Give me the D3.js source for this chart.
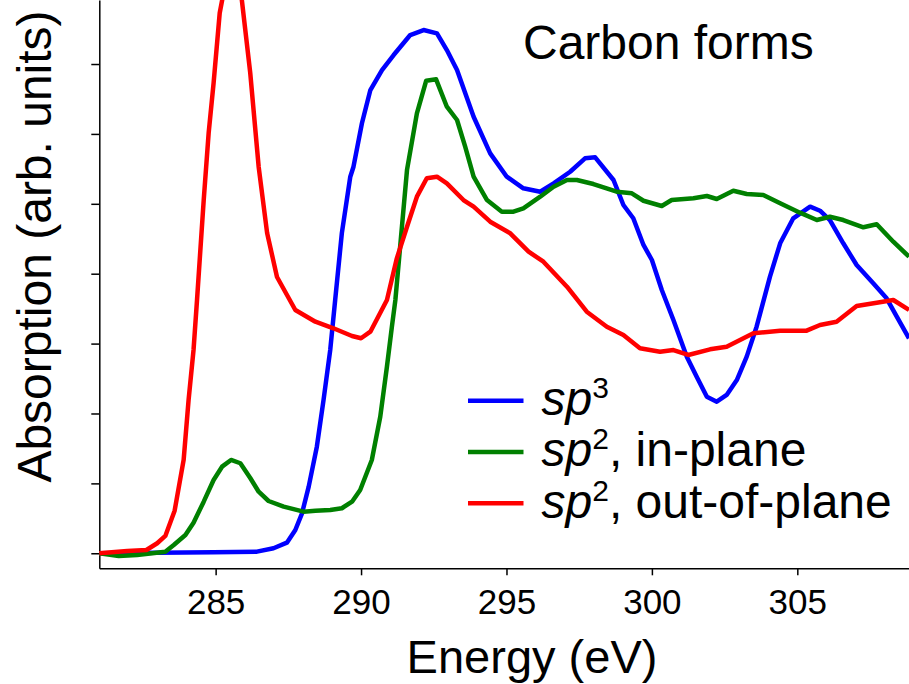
<!DOCTYPE html>
<html>
<head>
<meta charset="utf-8">
<script src="https://cdn.jsdelivr.net/npm/d3@7"></script>
<style>
  html, body { margin: 0; padding: 0; background: #fff; }
  svg { display: block; font-family: "Liberation Sans", Arial, sans-serif; }
</style>
</head>
<body>
<svg id="chart" width="909" height="684"></svg>
<script>
// energy (eV) / absorption (arb. units)
var sp3E = [281.0, 284.92, 286.42, 286.99, 287.45, 287.74, 287.97, 288.20, 288.48, 288.71, 288.94, 289.11, 289.34, 289.63, 289.74, 290.03, 290.32, 290.72, 291.12, 291.69, 292.15, 292.61, 292.95, 293.30, 293.87, 294.44, 295.01, 295.58, 296.16, 296.62, 297.19, 297.70, 298.05, 298.68, 299.02, 299.36, 299.71, 300.00, 300.34, 300.74, 301.20, 301.54, 301.89, 302.23, 302.57, 302.92, 303.26, 303.60, 304.06, 304.41, 304.86, 305.44, 305.78, 306.12, 306.58, 307.04, 307.61, 308.07, 308.42, 308.84];
var sp3A = [0, 0.014, 0.023, 0.072, 0.152, 0.333, 0.572, 0.953, 1.525, 2.193, 2.908, 3.624, 4.582, 5.388, 5.531, 6.152, 6.628, 6.914, 7.129, 7.415, 7.486, 7.439, 7.200, 6.914, 6.246, 5.722, 5.388, 5.222, 5.173, 5.293, 5.459, 5.651, 5.665, 5.341, 4.983, 4.793, 4.411, 4.196, 3.767, 3.338, 2.813, 2.526, 2.240, 2.169, 2.265, 2.479, 2.813, 3.242, 3.957, 4.435, 4.793, 4.959, 4.901, 4.768, 4.435, 4.124, 3.863, 3.648, 3.385, 3.076];

var inPlaneE = [281.0, 281.67, 282.30, 283.27, 283.56, 283.96, 284.24, 284.59, 284.93, 285.22, 285.53, 285.85, 286.19, 286.48, 286.82, 287.34, 288.02, 288.43, 288.94, 289.34, 289.69, 289.97, 290.37, 290.66, 290.89, 291.06, 291.18, 291.58, 291.92, 292.24, 292.58, 292.95, 293.30, 293.58, 293.87, 294.33, 294.84, 295.24, 295.58, 296.16, 296.62, 297.08, 297.42, 297.99, 298.79, 299.31, 299.71, 300.34, 300.68, 301.43, 301.89, 302.23, 302.80, 303.26, 303.83, 304.41, 305.09, 305.67, 306.12, 306.58, 307.27, 307.73, 308.30, 308.84];
var inPlaneA = [0, -0.039, -0.024, 0.023, 0.119, 0.262, 0.438, 0.738, 1.049, 1.239, 1.335, 1.288, 1.077, 0.881, 0.748, 0.667, 0.595, 0.609, 0.619, 0.644, 0.738, 0.906, 1.335, 1.954, 2.670, 3.242, 3.624, 5.484, 6.295, 6.761, 6.781, 6.389, 6.199, 5.817, 5.388, 5.054, 4.887, 4.887, 4.936, 5.102, 5.245, 5.341, 5.341, 5.283, 5.173, 5.150, 5.044, 4.969, 5.054, 5.079, 5.112, 5.069, 5.187, 5.140, 5.126, 5.007, 4.873, 4.768, 4.815, 4.768, 4.664, 4.707, 4.458, 4.243];

var outPlaneE = [281.0, 281.96, 282.62, 282.99, 283.27, 283.59, 283.90, 284.07, 284.24, 284.36, 284.59, 284.76, 284.93, 285.14, 285.30, 285.57, 285.85, 286.19, 286.48, 286.77, 287.11, 287.74, 288.43, 289.05, 289.69, 290.00, 290.32, 290.89, 291.23, 291.58, 291.92, 292.26, 292.61, 292.95, 293.52, 293.87, 294.44, 295.13, 295.76, 296.27, 297.08, 297.76, 298.45, 299.02, 299.59, 300.28, 300.74, 301.25, 302.00, 302.57, 303.49, 304.41, 305.32, 305.78, 306.35, 307.04, 307.73, 308.30, 308.84];
var outPlaneA = [0, 0.033, 0.047, 0.143, 0.248, 0.609, 1.335, 2.193, 2.908, 3.624, 5.054, 6.013, 6.728, 7.730, 8.080, 8.300, 8.100, 6.871, 5.526, 4.582, 3.953, 3.481, 3.313, 3.219, 3.109, 3.076, 3.170, 3.624, 4.220, 4.672, 5.102, 5.365, 5.388, 5.293, 5.054, 4.959, 4.744, 4.578, 4.315, 4.172, 3.814, 3.456, 3.242, 3.123, 2.933, 2.884, 2.908, 2.837, 2.918, 2.956, 3.147, 3.185, 3.185, 3.266, 3.313, 3.538, 3.585, 3.624, 3.481];

var seriesColors = ["#0000ff", "#008000", "#ff0000"];
var xTicks = [285, 290, 295, 300, 305];
var yTicks = [0, 1, 2, 3, 4, 5, 6, 7];

var svg = d3.select("#chart");

var x = d3.scaleLinear().domain([281.0, 308.84]).range([99.3, 909]);
var y = d3.scaleLinear().domain([-0.215, 7.916]).range([568.3, 0]);

function pairs(es, as) {
  return es.map(function(e, i) { return [e, as[i]]; });
}
var series = [pairs(sp3E, sp3A), pairs(inPlaneE, inPlaneA), pairs(outPlaneE, outPlaneA)];

// axes
var xAxis = svg.append("g")
  .attr("transform", "translate(0,568.3)")
  .call(d3.axisBottom(x).tickValues(xTicks).tickSize(7).tickSizeOuter(0));
xAxis.select(".domain").attr("stroke", "#000").attr("stroke-width", 1.5);
xAxis.selectAll(".tick line").attr("stroke-width", 1.5);
xAxis.selectAll(".tick text")
  .attr("y", 0).attr("dy", 0)
  .attr("transform", "translate(0,46)")
  .attr("font-size", 35)
  .attr("font-family", "Liberation Sans, Arial, sans-serif")
  .attr("fill", "#000");

var yAxis = svg.append("g")
  .attr("transform", "translate(99.3,0)")
  .call(d3.axisLeft(y).tickValues(yTicks).tickSize(8).tickSizeOuter(0).tickFormat(""));
yAxis.select(".domain").attr("stroke", "#000").attr("stroke-width", 1.5);
yAxis.selectAll(".tick line").attr("stroke-width", 1.5);

// curves
var line = d3.line()
  .x(function(d) { return x(d[0]); })
  .y(function(d) { return y(d[1]); });

svg.selectAll("path.curve")
  .data(series)
  .enter()
  .append("path")
  .attr("class", "curve")
  .attr("d", line)
  .attr("fill", "none")
  .attr("stroke", function(d, i) { return seriesColors[i]; })
  .attr("stroke-width", 4.5)
  .attr("stroke-linejoin", "round");

// labels
svg.append("text")
  .attr("x", 532).attr("y", 673)
  .attr("text-anchor", "middle")
  .attr("font-size", 47)
  .text("Energy (eV)");

svg.append("text")
  .attr("transform", "translate(51,246.5) rotate(-90)")
  .attr("text-anchor", "middle")
  .attr("font-size", 48)
  .text("Absorption (arb. units)");

svg.append("text")
  .attr("x", 523).attr("y", 59)
  .attr("font-size", 48)
  .text("Carbon forms");

// legend
var legendRows = [
  { sup: "3", rest: "" },
  { sup: "2", rest: ", in-plane" },
  { sup: "2", rest: ", out-of-plane" }
];
var legend = svg.selectAll("g.legend")
  .data(legendRows)
  .enter()
  .append("g")
  .attr("class", "legend")
  .attr("transform", function(d, i) { return "translate(0," + (415 + i * 51.3) + ")"; });

legend.append("line")
  .attr("x1", 468).attr("x2", 523.5)
  .attr("y1", -14.3).attr("y2", -14.3)
  .attr("stroke", function(d, i) { return seriesColors[i]; })
  .attr("stroke-width", 4.5);

var lt = legend.append("text")
  .attr("x", 541.5).attr("y", 0)
  .attr("font-size", 48);
lt.append("tspan").attr("font-style", "italic").text("sp");
lt.append("tspan").attr("font-size", 30).attr("dy", -17).text(function(d) { return d.sup; });
lt.append("tspan").attr("dy", 17).text(function(d) { return d.rest; });
</script>
</body>
</html>
